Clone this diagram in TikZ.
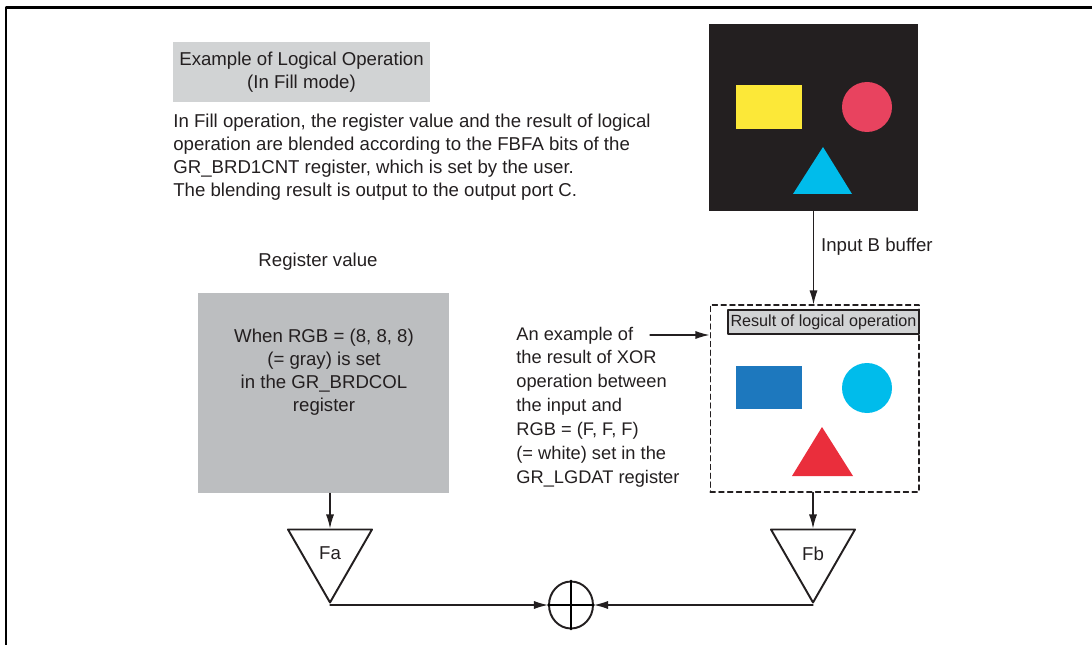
\documentclass[tikz,border=0pt]{standalone}
\usepackage{fontspec}
\setmainfont{Liberation Sans}
\usetikzlibrary{positioning,arrows.meta,shapes.geometric}

\definecolor{inkblack}{HTML}{231F20}
\definecolor{titlegray}{HTML}{D1D3D4}
\definecolor{reggray}{HTML}{BCBEC0}
\definecolor{shyellow}{HTML}{FCE838}
\definecolor{shrose}{HTML}{E8435F}
\definecolor{shcyan}{HTML}{00BCEB}
\definecolor{shblue}{HTML}{1D78BE}
\definecolor{shred}{HTML}{EA2E3C}

\begin{document}
\begin{tikzpicture}[x=0.02cm,y=-0.02cm, line cap=round, line join=round,
  txt/.style={font=\fontsize{10.6}{13}\selectfont, text=inkblack, inner sep=0pt},
  arr/.style={-{Latex[length=8pt,width=4.6pt]}, line width=0.7pt, draw=inkblack},
  mixer/.style={isosceles triangle, shape border rotate=270, isosceles triangle stretches,
    draw=inkblack, line width=1.1pt, inner sep=0pt, minimum width=1.68cm, minimum height=1.46cm}]
\useasboundingbox (0,0) rectangle (1092,645);

% Frame
\draw[line width=1.2pt, line cap=butt] (6,645) -- (6,7.5) -- (1092,7.5);

% Title and description
\node[txt, fill=titlegray, align=center, minimum width=5.14cm, minimum height=1.2cm] (title) at (301.5,72)
  {Example of Logical Operation\\(In Fill mode)};
\node[txt, align=left, anchor=west] (desc) at (173,157)
  {In Fill operation, the register value and the result of logical\\
   operation are blended according to the FBFA bits of the\\
   GR\_BRD1CNT register, which is set by the user.\\
   The blending result is output to the output port C.};

% Input B picture
\node[fill=inkblack, inner sep=0pt, minimum width=4.18cm, minimum height=3.74cm] (input) at (813.5,117.5) {};
\fill[shyellow] (736,85) rectangle (802,129);
\fill[shrose] (867,107) circle (25);
\fill[shcyan] (823,147) -- (852,194) -- (793,194) -- cycle;

% Result of logical operation
\node[draw=inkblack, dashed, dash pattern=on 3pt off 2pt, line width=0.6pt, inner sep=0pt,
  minimum width=4.18cm, minimum height=3.74cm] (result) at (814.5,398.5) {};
\node[txt, draw=inkblack, fill=titlegray, line width=0.6pt, anchor=north east,
  minimum width=3.82cm, minimum height=0.48cm, font=\fontsize{9.2}{10}\selectfont]
  (reslabel) at ([yshift=-0.1cm]result.north east) {Result of logical operation};
\fill[shblue] (736,366) rectangle (802,409);
\fill[shcyan] (867,388) circle (25);
\fill[shred] (822,427) -- (853,476) -- (792,476) -- cycle;

\draw[arr] (input.south) -- node[txt, right=4pt, pos=0.38] (inlabel) {Input B buffer} (input.south |- result.north);

% XOR note
\node[txt, align=left, anchor=west, font=\fontsize{10.4}{13.6}\selectfont] (note) at (516,407)
  {An example of\\
   the result of XOR\\
   operation between\\
   the input and\\
   RGB = (F, F, F)\\
   (= white) set in the\\
   GR\_LGDAT register};
\coordinate (notetail) at (650,335);
\draw[arr] (notetail) -- (notetail -| result.west);

% Register value
\node[txt] (reglabel) at (318,262) {Register value};
\node[fill=reggray, inner sep=0pt, minimum width=5.02cm, minimum height=4cm] (regbox) at (323.5,393) {};
\node[txt, align=center] (regtext) at (324,372)
  {When RGB = (8, 8, 8)\\(= gray) is set\\in the GR\_BRDCOL\\register};

% Blend factors and sum
\node[mixer, anchor=apex] (fa) at (330,605) {};
\node[mixer, anchor=apex] (fb) at (813,605) {};
\node[txt] (falabel) at ([yshift=-0.5cm]fa.lower side) {Fa};
\node[txt] (fblabel) at ([yshift=-0.5cm]fb.lower side) {Fb};
\node[ellipse, draw=inkblack, line width=1.1pt, inner sep=0pt,
  minimum width=0.88cm, minimum height=0.94cm] (sum) at (571,605) {};
\draw[line width=1.1pt] (sum.north) -- (sum.south) (sum.west) -- (sum.east);

\draw[arr] (fa.apex |- regbox.south) -- (fa.lower side);
\draw[arr] (fb.apex |- result.south) -- (fb.lower side);
\draw[arr] (fa.apex) -- (sum.west);
\draw[arr] (fb.apex) -- (sum.east);
\end{tikzpicture}
\end{document}
